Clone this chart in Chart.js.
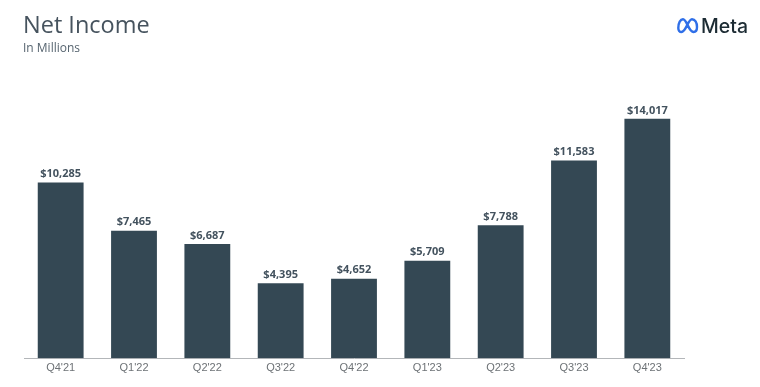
<!DOCTYPE html>
<html>
<head>
<meta charset="utf-8">
<title>Net Income</title>
<script src="https://cdn.jsdelivr.net/npm/chart.js@4"></script>
<style>
  html, body { margin: 0; padding: 0; background: #fff; }
  #okvir { position: relative; width: 760px; height: 387px; overflow: hidden; }
  #graf { position: absolute; left: 0; top: 0; }
  #naslov { position: absolute; left: 23px; top: 8px; font: 400 23.5px "Open Sans", sans-serif; color: #46535e; white-space: nowrap; }
  #podnaslov { position: absolute; left: 23px; top: 39px; font: 400 12px "Open Sans", sans-serif; color: #56646f; white-space: nowrap; }
  #logo { position: absolute; left: 676px; top: 17px; }
  #logoTekst { position: absolute; left: 701px; top: 14px; font: 500 19.5px Inter, sans-serif; color: #1c2b33; white-space: nowrap; }
</style>
</head>
<body>
<div id="okvir">
  <canvas id="graf" width="760" height="387"></canvas>
  <div id="naslov">Net Income</div>
  <div id="podnaslov">In Millions</div>
  <svg id="logo" width="23" height="18" viewBox="0 0 23 18">
    <path d="M2.3 11 C2.3 5.5 4.5 2.3 7 2.3 C11 2.3 12.5 15 17.5 15 C19.8 15 21 13 21 10 C21 5.5 19 2.3 16 2.3 C12 2.3 10 15 5.5 15 C3.5 15 2.3 13.5 2.3 11 Z" fill="none" stroke="#2f6fe8" stroke-width="2.4"/>
  </svg>
  <div id="logoTekst">Meta</div>
</div>
<script>
// Podaci s grafa
const kvartali = ["Q4'21", "Q1'22", "Q2'22", "Q3'22", "Q4'22", "Q1'23", "Q2'23", "Q3'23", "Q4'23"];
const dobit = [10285, 7465, 6687, 4395, 4652, 5709, 7788, 11583, 14017];

// Oznake iznosa iznad stupaca
const oznake = {
    id: 'oznake',
    afterDatasetsDraw(chart) {
        const ctx = chart.ctx;
        ctx.save();
        ctx.font = '700 11px "Open Sans", sans-serif';
        ctx.fillStyle = '#43525e';
        ctx.textAlign = 'center';
        ctx.textBaseline = 'bottom';
        chart.getDatasetMeta(0).data.forEach((stupac, i) => {
            ctx.fillText('$' + dobit[i].toLocaleString('en-US'), stupac.x, stupac.y - 3);
        });
        ctx.restore();
    }
};

new Chart(document.getElementById('graf').getContext('2d'), {
    type: 'bar',
    data: {
        labels: kvartali,
        datasets: [{
            data: dobit,
            backgroundColor: '#344854',
            categoryPercentage: 1,
            barPercentage: 0.625
        }]
    },
    options: {
        responsive: false,
        animation: false,
        layout: { padding: { left: 24, right: 76, top: 85, bottom: 9.5 } },
        plugins: { legend: { display: false }, tooltip: { enabled: false } },
        scales: {
            x: {
                grid: { display: false, drawTicks: false },
                border: { color: '#b3b6b9', width: 1 },
                ticks: { color: '#6d7276', font: { family: '"Liberation Sans"', size: 11 }, padding: 3, maxRotation: 0 }
            },
            y: {
                display: false,
                min: 0,
                max: 16000
            }
        }
    },
    plugins: [oznake]
});
</script>
</body>
</html>
